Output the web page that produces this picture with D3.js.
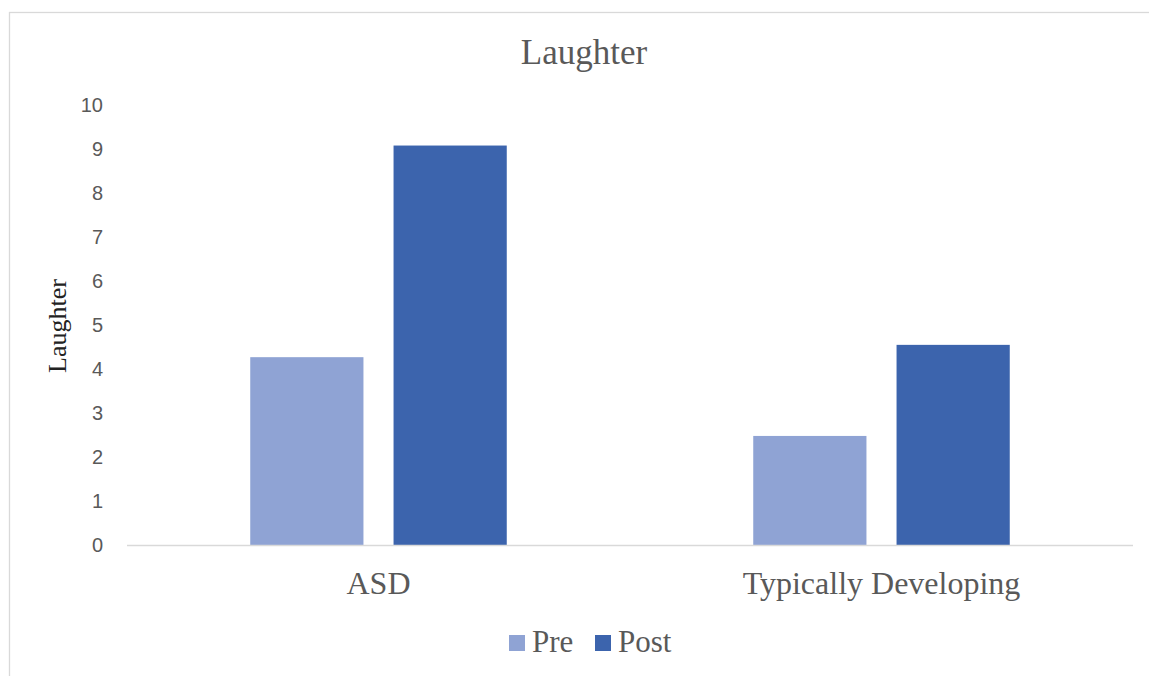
<!DOCTYPE html>
<html>
<head>
<meta charset="utf-8">
<script src="https://cdn.jsdelivr.net/npm/d3@7"></script>
<style>
  html, body { margin: 0; padding: 0; background: #fff; }
  svg { display: block; }
</style>
</head>
<body>
<svg id="chart" width="1149" height="676"></svg>
<script>
// Laughter counts before and after, by group
const categories = ["ASD", "Typically Developing"];
const seriesNames = ["Pre", "Post"];
const preValues = [4.28, 2.49];
const postValues = [9.09, 4.56];
const yTicks = [0, 1, 2, 3, 4, 5, 6, 7, 8, 9, 10];

const colors = { Pre: "#8fa3d4", Post: "#3c64ad" };
const serif = "'Liberation Serif', 'Times New Roman', serif";
const sans = "'Liberation Sans', Arial, sans-serif";
const textColor = "#595959";

const rows = categories.map((c, i) => ({
  category: c,
  values: [
    { key: "Pre", value: preValues[i] },
    { key: "Post", value: postValues[i] }
  ]
}));

const svg = d3.select("#chart");

// outer chart frame (continues past the right and bottom edges)
svg.append("rect")
  .attr("x", 9.5).attr("y", 12.5)
  .attr("width", 1200).attr("height", 700)
  .attr("fill", "#fff")
  .attr("stroke", "#d9d9d9").attr("stroke-width", 1.3);

const plot = { left: 127, right: 1133, top: 105.5, bottom: 545.5 };

const x0 = d3.scaleBand()
  .domain(categories)
  .range([plot.left, plot.right])
  .padding(0);

const x1 = d3.scaleBand()
  .domain(seriesNames)
  .range([0, x0.bandwidth()])
  .paddingInner(0.21)
  .paddingOuter(0.86);

const y = d3.scaleLinear()
  .domain([0, 10])
  .range([plot.bottom, plot.top]);

// y axis labels
const yAxis = d3.axisLeft(y)
  .tickValues(yTicks)
  .tickSize(0)
  .tickPadding(24)
  .tickFormat(d3.format("d"));

const yg = svg.append("g")
  .attr("transform", `translate(${plot.left},0)`)
  .call(yAxis);
yg.select(".domain").remove();
yg.selectAll("text")
  .attr("font-family", sans)
  .attr("font-size", 20)
  .attr("fill", textColor);

// bars
const groups = svg.append("g")
  .selectAll("g")
  .data(rows)
  .join("g")
  .attr("transform", d => `translate(${x0(d.category)},0)`);

groups.selectAll("rect")
  .data(d => d.values)
  .join("rect")
  .attr("x", d => x1(d.key))
  .attr("width", x1.bandwidth())
  .attr("y", d => y(d.value))
  .attr("height", d => y(0) - y(d.value))
  .attr("fill", d => colors[d.key]);

// baseline
svg.append("line")
  .attr("x1", plot.left).attr("x2", plot.right)
  .attr("y1", y(0)).attr("y2", y(0))
  .attr("stroke", "#d9d9d9").attr("stroke-width", 1.5);

// category labels
const xAxis = d3.axisBottom(x0).tickSize(0).tickPadding(26);
const xg = svg.append("g")
  .attr("transform", `translate(0,${y(0)})`)
  .call(xAxis);
xg.select(".domain").remove();
xg.selectAll("text")
  .attr("font-family", serif)
  .attr("font-size", 32)
  .attr("fill", textColor);

// title
svg.append("text")
  .attr("x", 584).attr("y", 64)
  .attr("text-anchor", "middle")
  .attr("font-family", serif)
  .attr("font-size", 35)
  .attr("fill", textColor)
  .text("Laughter");

// y axis title
svg.append("text")
  .attr("transform", "translate(66,326) rotate(-90)")
  .attr("text-anchor", "middle")
  .attr("font-family", serif)
  .attr("font-size", 26)
  .attr("fill", "#222")
  .text("Laughter");

// legend
const legendItems = [
  { key: "Pre", x: 509 },
  { key: "Post", x: 595 }
];
const legend = svg.append("g");
legend.selectAll("rect")
  .data(legendItems)
  .join("rect")
  .attr("x", d => d.x).attr("y", 635)
  .attr("width", 16).attr("height", 16)
  .attr("fill", d => colors[d.key]);
legend.selectAll("text")
  .data(legendItems)
  .join("text")
  .attr("x", d => d.x + 23).attr("y", 652)
  .attr("font-family", serif)
  .attr("font-size", 31)
  .attr("fill", textColor)
  .text(d => d.key);
</script>
</body>
</html>
